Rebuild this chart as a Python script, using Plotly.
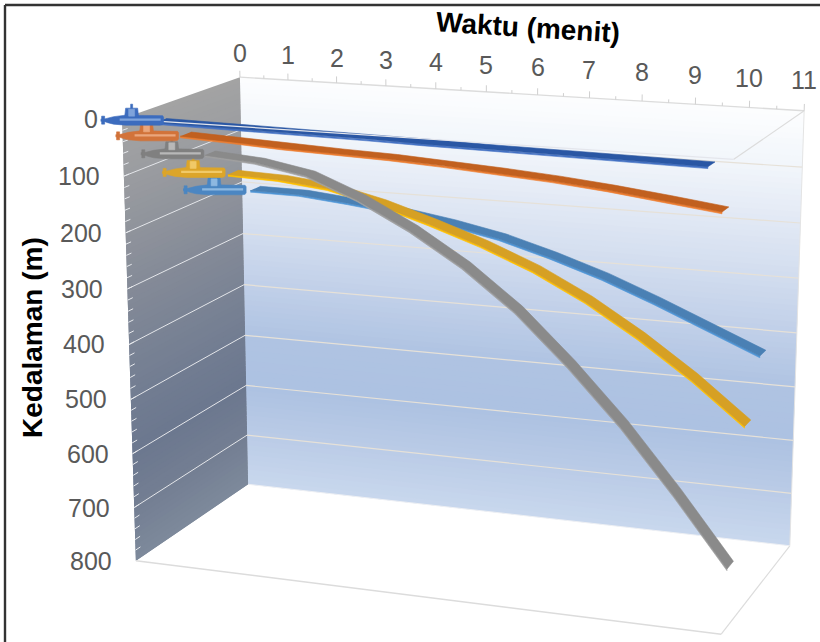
import numpy as np
import plotly.graph_objects as go

# Chart content
TIME_TICKS = list(range(0, 12))
DEPTH_TICKS = list(range(0, 900, 100))
TIMES = [0.5, 1.5, 2.5, 3.5, 4.5, 5.5, 6.5, 7.5, 8.5, 9.5, 10.5]
SERIES_1 = [8, 9, 10, 11, 12, 14, 16, 17, 18, 19, 20]
SERIES_2 = [48, 52, 57, 60, 63, 68, 74, 81, 90, 101, 113]
SERIES_3 = [99, 106, 123, 160, 208, 266, 338, 428, 528, 642, 764]
SERIES_4 = [152, 155, 165, 187, 216, 248, 286, 334, 392, 458, 533]
SERIES_5 = [200, 201, 210, 221, 236, 255, 282, 313, 350, 390, 430]

# Series, back row first so nearer ribbons paint over farther ones.
# row, values, top face, front face, boat hull, boat highlight, boat position
RIBBONS = [
    (0.9, SERIES_5, "#4a80b4", "#4f96d6", "#4b86c2", "#8db8e0", 0.31, 204),
    (0.7, SERIES_4, "#d6a024", "#ffc000", "#dca52a", "#f0c968", 0.34, 153),
    (0.5, SERIES_3, "#8a8a8a", "#a0a0a0", "#808080", "#b8b8b8", 0.38, 101),
    (0.3, SERIES_2, "#c1601f", "#ed7d31", "#d2733a", "#eaa67c", 0.36, 52),
    (0.1, SERIES_1, "#2a57a4", "#4472c4", "#3c6cbe", "#7fa3da", 0.56, 7),
]
RIBBON_WIDTH = 0.09
FRONT_FACE = 3

# Colour ramps down the two walls
WALL_LEVELS = [0, 100, 200, 300, 400, 500, 600, 700, 800]
BACK_WALL = ["#fdfeff", "#f2f6fb", "#e2e9f5", "#d2ddef", "#c1d0e9", "#b0c4e3", "#adc2e2", "#bbcce7", "#c9d8ee"]
SIDE_WALL = ["#a4a4a4", "#9b9da1", "#90949c", "#858b98", "#7b8495", "#727d92", "#6c788f", "#747f93", "#7e8a9c"]

# Box corners on the page as (time, row, depth) fractions -> pixels; these fix the view
VIEW = {
    (0, 0, 0): (122, 119), (1, 0, 0): (734, 159), (0, 1, 0): (240, 77), (1, 1, 0): (804, 111),
    (0, 0, 1): (136, 561), (1, 0, 1): (721, 634), (0, 1, 1): (248, 484), (1, 1, 1): (790, 546),
}

rows = []
for (u, d, h), (px, py) in VIEW.items():
    rows.append([u, d, h, 1, 0, 0, 0, 0, -px * u, -px * d, -px * h, -px])
    rows.append([0, 0, 0, 0, u, d, h, 1, -py * u, -py * d, -py * h, -py])
CAMERA = np.linalg.svd(np.array(rows, float))[2][-1].reshape(3, 4)


def project(t, row, depth):
    """Perspective view of (time, series row, depth) in page pixels."""
    t, row, depth = np.broadcast_arrays(np.asarray(t, float), np.asarray(row, float), np.asarray(depth, float))
    q = CAMERA @ np.stack([t / 11, row, depth / 800, np.ones_like(t, dtype=float)])
    return q[0] / q[2], q[1] / q[2]


def ramp(level, stops):
    rgb = np.array([[int(c[i:i + 2], 16) for i in (1, 3, 5)] for c in stops], float)
    return "rgb(%d,%d,%d)" % tuple(np.interp(level, WALL_LEVELS, rgb[:, k]) for k in range(3))


fig = go.Figure()


def polygon(x, y, color, stroke=0.6):
    fig.add_trace(go.Scatter(
        x=list(x), y=list(y), mode="lines", fill="toself", fillcolor=color,
        line=dict(color=color, width=stroke), showlegend=False, hoverinfo="skip"))


def line(t, row, depth, color, width):
    x, y = project(t, row, depth)
    fig.add_trace(go.Scatter(x=x, y=y, mode="lines", line=dict(color=color, width=width),
                             showlegend=False, hoverinfo="skip"))


# Walls as overlapping bands, painted top down, so the ramp follows the perspective without seams
for level in range(0, 800, 10):
    a, b = level, min(level + 20, 800)
    x1, y1 = project([0, 11, 11, 0, 0], 1, [a, a, b, b, a])
    polygon(x1, y1, ramp(level + 5, BACK_WALL), stroke=0)
    x2, y2 = project(0, [0, 1, 1, 0, 0], [a, a, b, b, a])
    polygon(x2, y2, ramp(level + 5, SIDE_WALL), stroke=0)

# Gridlines on both walls
for depth in DEPTH_TICKS[1:-1]:
    line([0, 11], 1, depth, "#e6e1d8", 1.2)
    line(0, [0, 1], depth, "#e4e6ea", 1)

# Minor depth ticks on the front edge of the side wall
for depth in range(20, 800, 20):
    line(0, [0, 0.04], depth, "#e8eaee", 1)

# Box outline
EDGE = "#dcdcdc"
line([0, 11], 1, 0, EDGE, 1.4)
line(11, [1, 0], 0, EDGE, 1.2)
line(11, 1, [0, 800], "#e4e4e4", 1)
line([0, 11], 0, 800, EDGE, 1.4)
line(11, [0, 1], 800, EDGE, 1.2)
line([0, 11], 1, 800, "#eef0f4", 1)

# Time axis ticks along the top back edge
for i in range(0, 23):
    line(i / 2, 1, [0, -12 if i % 2 == 0 else -6], "#d0d0d0", 1)

# Ribbons
for row, values, top, front, *_ in RIBBONS:
    bx, by = project(TIMES, row + RIBBON_WIDTH / 2, values)
    fx, fy = project(TIMES, row - RIBBON_WIDTH / 2, values)
    lx, ly = project(TIMES, row - RIBBON_WIDTH / 2, np.array(values) + FRONT_FACE)
    polygon(np.r_[fx, lx[::-1]], np.r_[fy, ly[::-1]], front)
    polygon(np.r_[bx, fx[::-1]], np.r_[by, fy[::-1]], top)

# The top front edge passes over the nearest ribbon
line([0, 11], 0, 0, "#e4e6ec", 1.2)

# Small boat at the start of each ribbon, outlined in page pixels from its bow
HULL_X = [-63, -60, -56, -50, -38, -4, -1, 0, 0, -1, -4, -38, -50, -56, -60, -63]
HULL_Y = [-1, -1, -2, -3.5, -5, -5, -4.5, -3, 3, 4.5, 5, 5, 4, 2.5, 1, 1]
FIN_X = [-62, -59, -59, -62, -62]
FIN_Y = [-4, -4, 4, 4, -4]
TOWER_X = [-38, -26, -25, -39, -38]
TOWER_Y = [-12, -12, -3, -3, -12]
MAST_X = [-33, -31, -31, -33, -33]
MAST_Y = [-16, -16, -10, -10, -16]

for row, values, top, front, hull, light, boat_t, boat_v in RIBBONS:
    bow_x, bow_y = project(boat_t, row, boat_v)
    for sx, sy, c in ((FIN_X, FIN_Y, hull), (HULL_X, HULL_Y, hull), (TOWER_X, TOWER_Y, hull), (MAST_X, MAST_Y, hull)):
        polygon(bow_x + np.array(sx), bow_y + np.array(sy), c)
    polygon(bow_x + np.array([-35, -29, -29, -35, -35]), bow_y + np.array([-11, -11, -4, -4, -11]), light)
    fig.add_trace(go.Scatter(x=[float(bow_x) - 44, float(bow_x) - 3], y=[float(bow_y) - 0.5, float(bow_y) - 0.5],
                             mode="lines", line=dict(color=light, width=2.2), showlegend=False, hoverinfo="skip"))

FONT = "Liberation Sans, Arial, sans-serif"
notes = []
for t in TIME_TICKS:
    x, y = project(t, 1, 0)
    notes.append(dict(x=float(x), y=float(y) - 24 - 0.6 * t, text=str(t), xanchor="center", yanchor="middle",
                      showarrow=False, font=dict(family=FONT, size=25, color="#595959")))
for depth in DEPTH_TICKS:
    x, y = project(0, 0, depth)
    notes.append(dict(x=float(x) - 22, y=float(y), text=str(depth), xanchor="right", yanchor="middle",
                      showarrow=False, font=dict(family=FONT, size=25, color="#595959")))
notes.append(dict(x=528, y=27, text="<b>Waktu (menit)</b>", textangle=3.5, showarrow=False,
                  font=dict(family=FONT, size=28, color="#000000")))
notes.append(dict(x=32, y=338, text="<b>Kedalaman (m)</b>", textangle=-90, showarrow=False,
                  font=dict(family=FONT, size=28, color="#000000")))

fig.update_layout(
    width=820, height=642, margin=dict(l=0, r=0, t=0, b=0),
    paper_bgcolor="#ffffff", plot_bgcolor="#ffffff", annotations=notes,
    xaxis=dict(range=[0, 820], visible=False, fixedrange=True),
    yaxis=dict(range=[642, 0], visible=False, fixedrange=True),
    shapes=[
        dict(type="line", xref="x", yref="y", x0=5, y0=5, x1=820, y1=5, line=dict(color="#333333", width=2.4)),
        dict(type="line", xref="x", yref="y", x0=5, y0=5, x1=5, y1=642, line=dict(color="#333333", width=2.4)),
    ],
)
fig.write_html("out.html")
